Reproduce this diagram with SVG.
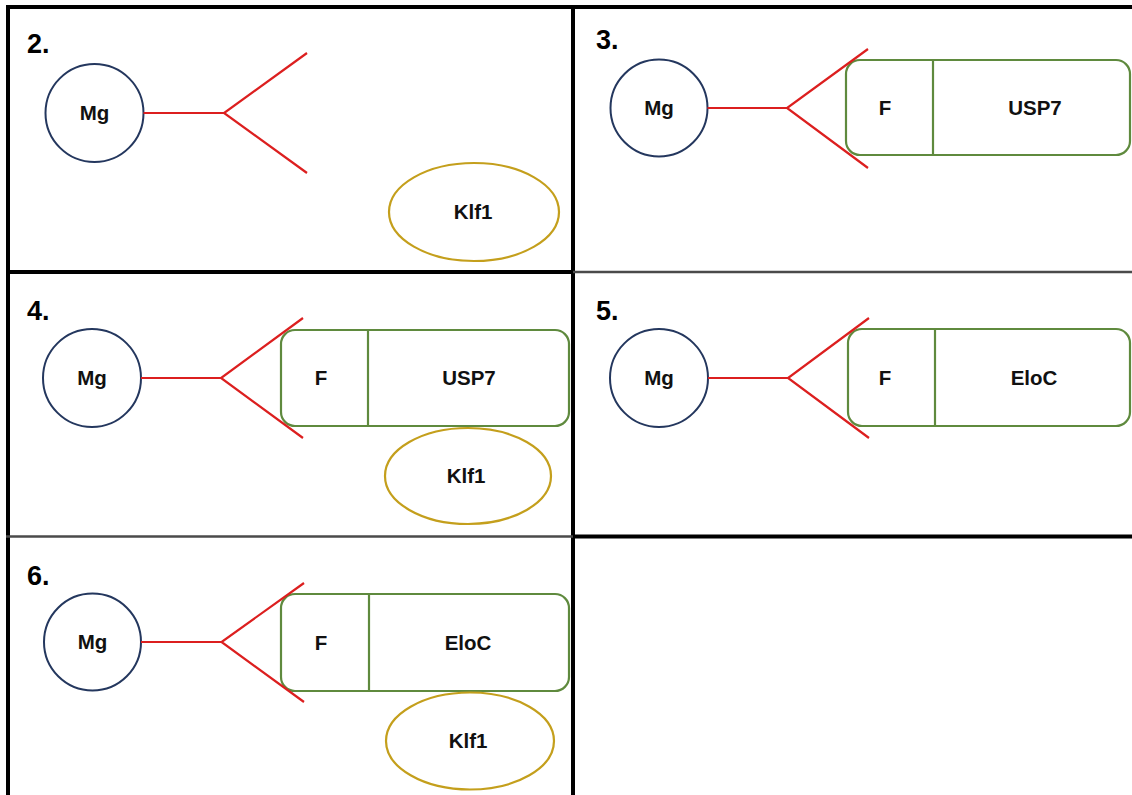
<svg xmlns="http://www.w3.org/2000/svg" width="1132" height="795" viewBox="0 0 1132 795">
  <style>
    .grid { stroke: #000; stroke-width: 4; fill: none; }
    .grid-thin { stroke: #4a4a4a; stroke-width: 2.5; fill: none; }
    .label { font-family: "Liberation Sans", Arial, sans-serif; font-weight: bold; font-size: 27px; fill: #000; }
    .txt { font-family: "Liberation Sans", Arial, sans-serif; font-weight: bold; font-size: 20.5px; fill: #111; text-anchor: middle; dominant-baseline: central; }
    .mg { fill: #fff; stroke: #24375e; stroke-width: 2; }
    .klf { fill: #fff; stroke: #c49f1c; stroke-width: 2.2; }
    .box { fill: #fff; stroke: #5f8a3e; stroke-width: 2.2; }
    .div { stroke: #5f8a3e; stroke-width: 2.2; }
    .link { stroke: #dc1f1f; stroke-width: 2.2; fill: none; stroke-linejoin: miter; }
  </style>
  <rect x="0" y="0" width="1132" height="795" fill="#fff"/>

  <!-- table grid -->
  <g id="grid">
    <line class="grid" x1="6" y1="7" x2="1132" y2="7"/>
    <line class="grid" x1="8" y1="5" x2="8" y2="795"/>
    <line class="grid" x1="573" y1="5" x2="573" y2="795"/>
    <line class="grid" x1="6" y1="272" x2="573" y2="272"/>
    <line class="grid-thin" x1="573" y1="272" x2="1132" y2="272"/>
    <line class="grid-thin" x1="6" y1="536.5" x2="573" y2="536.5"/>
    <line class="grid" x1="573" y1="536.5" x2="1132" y2="536.5"/>
  </g>

  <!-- panel numbers -->
  <g id="labels">
    <text class="label" x="27" y="53">2.</text>
    <text class="label" x="596" y="49">3.</text>
    <text class="label" x="27" y="320">4.</text>
    <text class="label" x="596" y="320">5.</text>
    <text class="label" x="27" y="585">6.</text>
  </g>

  <!-- panel 2 -->
  <g id="p2-mg"><circle class="mg" cx="94.5" cy="113" r="49"/><text class="txt" x="94.5" y="112">Mg</text></g>
  <g id="p2-klf1"><ellipse class="klf" cx="474" cy="212" rx="85" ry="49"/><text class="txt" x="473" y="211">Klf1</text></g>

  <!-- panel 3 -->
  <g id="p3-mg"><circle class="mg" cx="659" cy="108" r="48.5"/><text class="txt" x="659" y="107">Mg</text></g>
  <g id="p3-fusp7">
    <rect class="box" x="846" y="60" width="284" height="95" rx="14"/>
    <line class="div" x1="933" y1="60" x2="933" y2="155"/>
    <text class="txt" x="885" y="107">F</text>
    <text class="txt" x="1035" y="107">USP7</text>
  </g>

  <!-- panel 4 -->
  <g id="p4-mg"><circle class="mg" cx="92" cy="378" r="49"/><text class="txt" x="92" y="377">Mg</text></g>
  <g id="p4-fusp7">
    <rect class="box" x="281" y="330" width="288" height="96" rx="14"/>
    <line class="div" x1="368" y1="330" x2="368" y2="426"/>
    <text class="txt" x="321" y="377">F</text>
    <text class="txt" x="469" y="377">USP7</text>
  </g>
  <g id="p4-klf1"><ellipse class="klf" cx="468" cy="476" rx="83" ry="48"/><text class="txt" x="466" y="475">Klf1</text></g>

  <!-- panel 5 -->
  <g id="p5-mg"><circle class="mg" cx="659" cy="378" r="49"/><text class="txt" x="659" y="377">Mg</text></g>
  <g id="p5-feloc">
    <rect class="box" x="848" y="329" width="282" height="97" rx="14"/>
    <line class="div" x1="935" y1="329" x2="935" y2="426"/>
    <text class="txt" x="885" y="377">F</text>
    <text class="txt" x="1034" y="377">EloC</text>
  </g>

  <!-- panel 6 -->
  <g id="p6-mg"><circle class="mg" cx="92.5" cy="642" r="48.5"/><text class="txt" x="92.5" y="641">Mg</text></g>
  <g id="p6-feloc">
    <rect class="box" x="281" y="594" width="288" height="97" rx="14"/>
    <line class="div" x1="369" y1="594" x2="369" y2="691"/>
    <text class="txt" x="321" y="642">F</text>
    <text class="txt" x="468" y="642">EloC</text>
  </g>
  <g id="p6-klf1"><ellipse class="klf" cx="470" cy="741" rx="84" ry="48.5"/><text class="txt" x="468" y="740">Klf1</text></g>

  <!-- Y-shaped linkers from each Mg -->
  <g id="connectors">
    <path class="link" d="M143.5 113 H224 M307 53 L224 113 L307 173"/>
    <path class="link" d="M707.5 108 H787 M868 49 L787 108 L868 168"/>
    <path class="link" d="M141 378 H221 M303 318 L221 378 L303 438"/>
    <path class="link" d="M708 378 H788 M869 318 L788 378 L869 438"/>
    <path class="link" d="M141 642 H221.5 M304 583 L221.5 642 L304 702"/>
  </g>
</svg>
